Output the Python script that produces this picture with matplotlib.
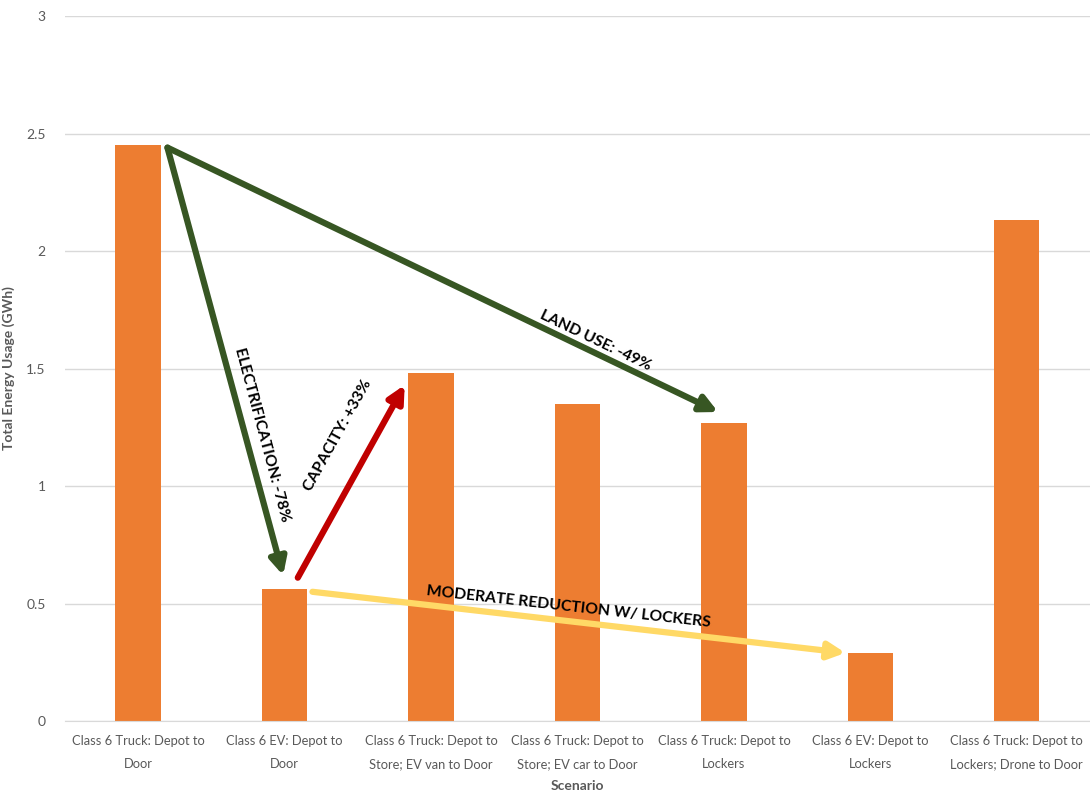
import matplotlib
matplotlib.use("Agg")
import matplotlib.pyplot as plt

scenarios = [
    "Class 6 Truck: Depot to\nDoor",
    "Class 6 EV: Depot to\nDoor",
    "Class 6 Truck: Depot to\nStore; EV van to Door",
    "Class 6 Truck: Depot to\nStore; EV car to Door",
    "Class 6 Truck: Depot to\nLockers",
    "Class 6 EV: Depot to\nLockers",
    "Class 6 Truck: Depot to\nLockers; Drone to Door",
]
energy_gwh = [2.45, 0.56, 1.48, 1.35, 1.27, 0.29, 2.13]
y_ticks = [0, 0.5, 1, 1.5, 2, 2.5, 3]
y_tick_labels = ["0", "0.5", "1", "1.5", "2", "2.5", "3"]

plt.rcParams['font.family'] = ['Lato', 'DejaVu Sans']

fig = plt.figure(figsize=(10.9, 7.9), dpi=100)
ax = fig.add_axes([0.0596, 0.0873, 0.9404, 0.8924])

x = list(range(len(scenarios)))
ax.bar(x, energy_gwh, width=0.31, color='#ED7D31', zorder=2)

ax.set_xlim(-0.5, len(scenarios) - 0.5)
ax.set_ylim(0, 3)
ax.set_yticks(y_ticks)
ax.set_yticklabels(y_tick_labels)
ax.set_xticks(x)
ax.set_xticklabels(scenarios, fontsize=9.3, color='#595959', linespacing=2.1)
ax.tick_params(axis='y', labelsize=10, labelcolor='#595959', length=0, pad=14)
ax.tick_params(axis='x', length=0, pad=10)

ax.grid(axis='y', color='#d9d9d9', linewidth=1, zorder=0)
for s in ['top', 'right', 'left']:
    ax.spines[s].set_visible(False)
ax.spines['bottom'].set_color('#d9d9d9')

ax.set_xlabel('Scenario', fontsize=10, fontweight='bold', color='#595959', labelpad=7)
ax.set_ylabel('Total Energy Usage (GWh)', fontsize=10, fontweight='bold', color='#595959', labelpad=8)

# fleches d'annotation
def fleche(x0, y0, x1, y1, couleur):
    ax.annotate('', xy=(x1, y1), xytext=(x0, y0),
                arrowprops=dict(arrowstyle='-|>', color=couleur, lw=4.5,
                                mutation_scale=25, shrinkA=0, shrinkB=0),
                zorder=3)

fleche(0.20, 2.44, 0.99, 0.62, '#375623')
fleche(0.20, 2.44, 3.96, 1.315, '#375623')
fleche(1.09, 0.61, 1.82, 1.43, '#C00000')
fleche(1.19, 0.55, 4.83, 0.29, '#FFD966')

txt = dict(fontsize=11.3, fontweight='bold', color='black', ha='center', va='center',
           rotation_mode='anchor', zorder=4)
ax.text(0.846, 1.217, 'ELECTRIFICATION: -78%', rotation=-75, **txt)
ax.text(1.365, 1.217, 'CAPACITY: +33%', rotation=61, **txt)
ax.text(3.12, 1.62, 'LAND USE: -49%', rotation=-25.6, **txt)
ax.text(2.94, 0.485, 'MODERATE REDUCTION W/ LOCKERS', rotation=-6.4, **txt)

fig.savefig('out.png', dpi=100)
